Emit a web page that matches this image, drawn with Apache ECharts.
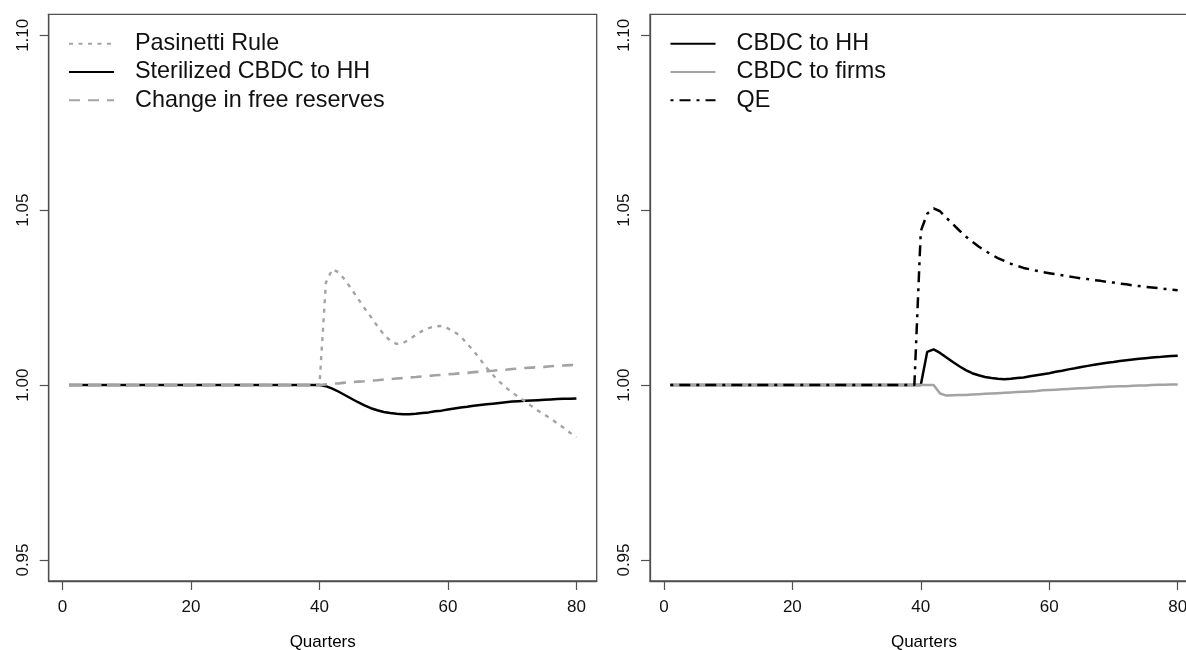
<!DOCTYPE html>
<html>
<head>
<meta charset="utf-8">
<title>CBDC scenarios</title>
<script src="https://cdn.jsdelivr.net/npm/echarts@6/dist/echarts.min.js"></script>
<style>
  html, body { margin: 0; padding: 0; background: #fff; }
  #chart { width: 1186px; height: 650px; }
</style>
</head>
<body>
<div id="chart"></div>
<script>
// Simulation horizon, quarters 1..80
const quarters = [];
for (let q = 1; q <= 80; q++) quarters.push(q);

const xTicks = [0, 20, 40, 60, 80];
const yTicks = [0.95, 1.00, 1.05, 1.10];

// Left panel
const pasinettiRule = [
  1, 1, 1, 1, 1, 1, 1, 1, 1, 1,
  1, 1, 1, 1, 1, 1, 1, 1, 1, 1,
  1, 1, 1, 1, 1, 1, 1, 1, 1, 1,
  1, 1, 1, 1, 1, 1, 1, 1, 1, 1,
  1.0293, 1.0331, 1.0322, 1.0300, 1.0274, 1.0247, 1.0220, 1.0195, 1.0169, 1.0145,
  1.0127, 1.0118, 1.0120, 1.0131, 1.0143, 1.0155, 1.0163, 1.0168, 1.0169, 1.0162,
  1.0152, 1.0139, 1.0118, 1.0098, 1.0074, 1.0050, 1.0029, 1.0010, 0.9993, 0.9979,
  0.9966, 0.9954, 0.9940, 0.9927, 0.9916, 0.9904, 0.9891, 0.9878, 0.9864, 0.9851
];
const sterilizedHH = [
  1, 1, 1, 1, 1, 1, 1, 1, 1, 1,
  1, 1, 1, 1, 1, 1, 1, 1, 1, 1,
  1, 1, 1, 1, 1, 1, 1, 1, 1, 1,
  1, 1, 1, 1, 1, 1, 1, 1, 1, 1,
  0.9997, 0.9990, 0.9981, 0.9971, 0.9961, 0.9951, 0.9942, 0.9934, 0.9928, 0.9923,
  0.9920, 0.9918, 0.9917, 0.9917, 0.9918, 0.9920, 0.9922, 0.9925, 0.9927, 0.9930,
  0.9933, 0.9936, 0.9938, 0.9941, 0.9943, 0.9945, 0.9947, 0.9949, 0.9951, 0.9953,
  0.9954, 0.9955, 0.9956, 0.9957, 0.9958, 0.9959, 0.9960, 0.9961, 0.9961, 0.9962
];
const freeReserves = [
  1, 1, 1, 1, 1, 1, 1, 1, 1, 1,
  1, 1, 1, 1, 1, 1, 1, 1, 1, 1,
  1, 1, 1, 1, 1, 1, 1, 1, 1, 1,
  1, 1, 1, 1, 1, 1, 1, 1, 1, 1,
  1.0002, 1.0004, 1.0005, 1.0007, 1.0008, 1.0010, 1.0011, 1.0013, 1.0014, 1.0016,
  1.0017, 1.0019, 1.0020, 1.0022, 1.0023, 1.0025, 1.0026, 1.0028, 1.0029, 1.0031,
  1.0032, 1.0034, 1.0035, 1.0037, 1.0038, 1.0040, 1.0041, 1.0043, 1.0044, 1.0046,
  1.0047, 1.0049, 1.0050, 1.0051, 1.0052, 1.0054, 1.0055, 1.0056, 1.0057, 1.0058
];

// Right panel
const cbdcHH = [
  1, 1, 1, 1, 1, 1, 1, 1, 1, 1,
  1, 1, 1, 1, 1, 1, 1, 1, 1, 1,
  1, 1, 1, 1, 1, 1, 1, 1, 1, 1,
  1, 1, 1, 1, 1, 1, 1, 1, 1, 1,
  1.0095, 1.0102, 1.0092, 1.0079, 1.0066, 1.0054, 1.0043, 1.0034, 1.0028, 1.0023,
  1.0020, 1.0018, 1.0017, 1.0018, 1.0020, 1.0022, 1.0025, 1.0028, 1.0031, 1.0034,
  1.0038, 1.0041, 1.0045, 1.0048, 1.0052, 1.0055, 1.0058, 1.0061, 1.0064, 1.0066,
  1.0069, 1.0071, 1.0073, 1.0075, 1.0077, 1.0079, 1.0080, 1.0082, 1.0083, 1.0084
];
const cbdcFirms = [
  1, 1, 1, 1, 1, 1, 1, 1, 1, 1,
  1, 1, 1, 1, 1, 1, 1, 1, 1, 1,
  1, 1, 1, 1, 1, 1, 1, 1, 1, 1,
  1, 1, 1, 1, 1, 1, 1, 1, 1, 1,
  1.0000, 1.0000, 0.9976, 0.9970, 0.9971, 0.9972, 0.9972, 0.9973, 0.9974, 0.9975,
  0.9976, 0.9977, 0.9978, 0.9979, 0.9980, 0.9981, 0.9982, 0.9983, 0.9985, 0.9986,
  0.9987, 0.9988, 0.9989, 0.9990, 0.9991, 0.9992, 0.9993, 0.9994, 0.9995, 0.9996,
  0.9997, 0.9997, 0.9998, 0.9999, 0.9999, 1.0000, 1.0001, 1.0001, 1.0002, 1.0002
];
const qe = [
  1, 1, 1, 1, 1, 1, 1, 1, 1, 1,
  1, 1, 1, 1, 1, 1, 1, 1, 1, 1,
  1, 1, 1, 1, 1, 1, 1, 1, 1, 1,
  1, 1, 1, 1, 1, 1, 1, 1, 1, 1.0440,
  1.0490, 1.0505, 1.0497, 1.0478, 1.0460, 1.0442, 1.0425, 1.0410, 1.0396, 1.0384,
  1.0373, 1.0363, 1.0355, 1.0347, 1.0341, 1.0335, 1.0331, 1.0327, 1.0323, 1.0320,
  1.0317, 1.0314, 1.0311, 1.0308, 1.0305, 1.0303, 1.0300, 1.0298, 1.0295, 1.0293,
  1.0290, 1.0288, 1.0285, 1.0283, 1.0281, 1.0279, 1.0277, 1.0275, 1.0273, 1.0271
];

const FONT = '"Liberation Sans", Arial, Helvetica, sans-serif';
const BOX = '#505050';

function pairs(values) {
  return quarters.map((q, i) => [q, values[i]]);
}

function xAxisFor(gridIndex) {
  return {
    type: 'value', gridIndex, position: 'bottom',
    min: -2.16, max: 83.16,
    name: 'Quarters', nameLocation: 'middle', nameGap: 53,
    nameTextStyle: { fontFamily: FONT, fontSize: 17, color: '#000' },
    axisLine: { show: true, onZero: false, lineStyle: { color: BOX, width: 1.3 } },
    splitLine: { show: false },
    axisTick: { show: true, inside: false, customValues: xTicks, length: 9, lineStyle: { color: BOX, width: 1.2 } },
    axisLabel: { customValues: xTicks, margin: 18, fontFamily: FONT, fontSize: 17, color: '#111' }
  };
}

function yAxisFor(gridIndex) {
  return {
    type: 'value', gridIndex, position: 'left',
    min: 0.944, max: 1.106,
    axisLine: { show: true, onZero: false, lineStyle: { color: BOX, width: 1.3 } },
    splitLine: { show: false },
    axisTick: { show: true, inside: false, customValues: yTicks, length: 9, lineStyle: { color: BOX, width: 1.2 } },
    axisLabel: {
      customValues: yTicks, rotate: 90, margin: 17,
      fontFamily: FONT, fontSize: 17, color: '#111',
      formatter: v => v.toFixed(2)
    }
  };
}

function legendFor(names, left) {
  return {
    data: names,
    orient: 'vertical',
    left, top: 29.5,
    padding: 0,
    itemGap: 0,
    itemWidth: 45, itemHeight: 14,
    itemStyle: { opacity: 0 },
    selectedMode: false,
    textStyle: { fontFamily: FONT, fontSize: 23.4, color: '#111', lineHeight: 28.3, padding: [0, 0, 0, 16] }
  };
}

function line(name, values, idx, color, width, dash, z) {
  return {
    name, type: 'line',
    xAxisIndex: idx, yAxisIndex: idx,
    data: pairs(values),
    symbol: 'none', showSymbol: false,
    smooth: false, z,
    lineStyle: { color, width, type: dash, cap: 'butt' },
    itemStyle: { color },
    emphasis: { disabled: true }
  };
}

const option = {
  animation: false,
  backgroundColor: '#fff',
  grid: [
    { left: 48.7, top: 14.3, width: 548, height: 566.7, show: true, borderColor: BOX, borderWidth: 1.3, backgroundColor: 'transparent', outerBoundsMode: 'none' },
    { left: 650, top: 14.3, width: 548, height: 566.7, show: true, borderColor: BOX, borderWidth: 1.3, backgroundColor: 'transparent', outerBoundsMode: 'none' }
  ],
  xAxis: [xAxisFor(0), xAxisFor(1)],
  yAxis: [yAxisFor(0), yAxisFor(1)],
  legend: [
    legendFor(['Pasinetti Rule', 'Sterilized CBDC to HH', 'Change in free reserves'], 68),
    legendFor(['CBDC to HH', 'CBDC to firms', 'QE'], 669.5)
  ],
  series: [
    line('Sterilized CBDC to HH', sterilizedHH, 0, '#000000', 2.5, 'solid', 2),
    line('Change in free reserves', freeReserves, 0, '#a3a3a3', 2.6, [11, 8], 3),
    line('Pasinetti Rule', pasinettiRule, 0, '#a3a3a3', 2.4, [4, 5.5], 4),
    line('CBDC to HH', cbdcHH, 1, '#000000', 2.5, 'solid', 2),
    line('CBDC to firms', cbdcFirms, 1, '#a3a3a3', 2.5, 'solid', 3),
    line('QE', qe, 1, '#000000', 2.5, [3, 6, 11, 6], 4)
  ]
};

const chart = echarts.init(document.getElementById('chart'), null, { renderer: 'canvas' });
chart.setOption(option);
</script>
</body>
</html>
